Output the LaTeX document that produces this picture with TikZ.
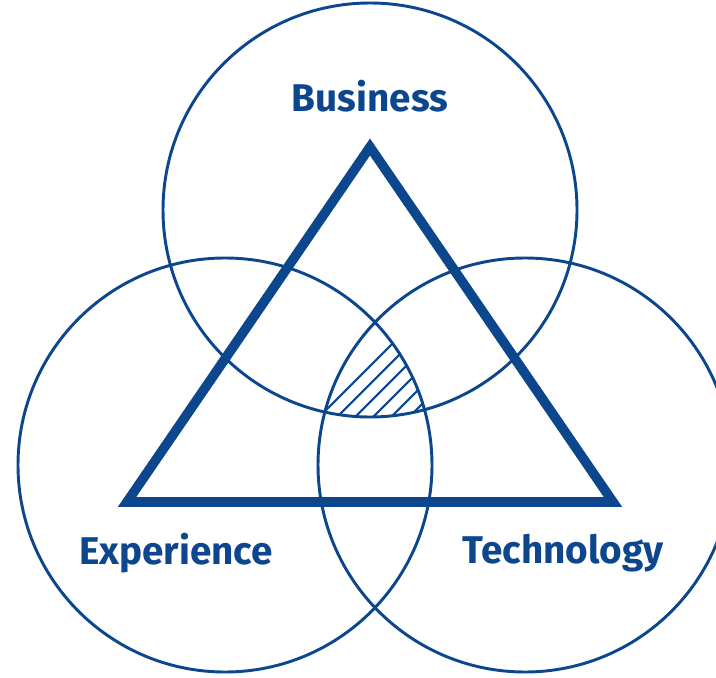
\documentclass[tikz,border=0pt]{standalone}
\usepackage{fontspec}
\setmainfont{Fira Sans}
\usepackage{tikz}

\definecolor{venblue}{RGB}{12,70,140}

\begin{document}
\begin{tikzpicture}[x=0.75pt,y=0.75pt,yscale=-1,xscale=1]
\tikzset{
  ring/.style={draw=venblue, line width=2.2pt},
  tri/.style={draw=venblue, line width=7.2pt, line join=miter},
  hatch/.style={draw=venblue, line width=1.6pt},
  lbl/.style={text=venblue, font=\fontsize{29}{32}\selectfont\bfseries, inner sep=0.75pt}
}
\useasboundingbox (0,0) rectangle (716,677);

%Circle centres
\coordinate (bus) at (370,210);
\coordinate (exp) at (225,465);
\coordinate (tech) at (525,465);

%Hatched common area
\begin{scope}
\clip (bus) circle (207);
\clip (exp) circle (207);
\clip (tech) circle (207);
\foreach \k in {0,...,14}
  \draw [hatch] (296+18*\k,440) -- (296+18*\k+140,300);
\end{scope}

%Circles
\draw [ring] (bus) circle (207);
\draw [ring] (exp) circle (207);
\draw [ring] (tech) circle (207);

%Triangle
\coordinate (apex) at (370,147);
\coordinate (bl) at (127,502);
\coordinate (br) at (613,502);
\draw [tri] (apex) -- (bl) -- (br) -- cycle;

% Text Node
\node [lbl] (busl) at (370,96) {Business};
% Text Node
\node [lbl] (expl) at (176,553) {Experience};
% Text Node
\node [lbl] (techl) at (563,553) {Technology};

\end{tikzpicture}
\end{document}
